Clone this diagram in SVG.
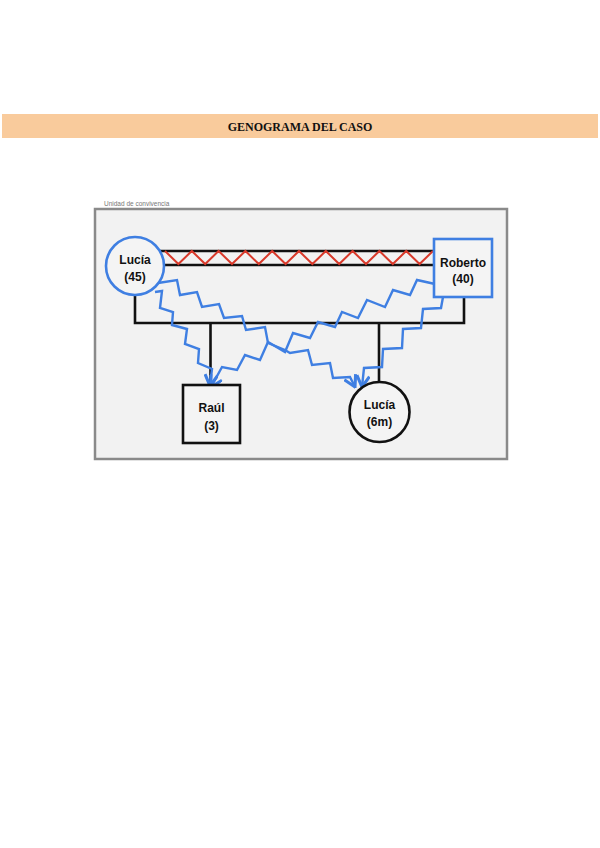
<svg xmlns="http://www.w3.org/2000/svg" width="600" height="848" viewBox="0 0 600 848">
<style>
.title{font-family:"Liberation Serif",serif;font-weight:bold;font-size:12px;fill:#111}
.lbl{font-family:"Liberation Sans",Arial,sans-serif;font-weight:bold;font-size:12px;fill:#111;text-anchor:middle}
.small{font-family:"Liberation Sans",Arial,sans-serif;font-size:6.5px;fill:#777}
.blk{stroke:#111;stroke-width:2.6;fill:none}
.red{stroke:#d93a2b;stroke-width:2;fill:none}
.blue{stroke:#3f7fe2;stroke-width:2.4;fill:none;stroke-linejoin:miter}
.bnode{stroke:#3f7fe2;stroke-width:2.6;fill:#f4f4f4}
.knode{stroke:#111;stroke-width:2.6;fill:#f4f4f4}
</style>
<defs>
<marker id="arr" markerUnits="userSpaceOnUse" markerWidth="14" markerHeight="14" refX="9" refY="5" orient="auto" viewBox="0 0 10 10">
<path d="M1,0.5 L9,5 L1,9.5" fill="none" stroke="#3f7fe2" stroke-width="2.2"/>
</marker>
</defs>
<rect width="600" height="848" fill="#ffffff"/>
<g id="header">
<rect x="2" y="114" width="596" height="24" fill="#f9cb9c"/>
<text class="title" x="300" y="130.5" text-anchor="middle">GENOGRAMA DEL CASO</text>
</g>
<g id="frame">
<rect x="95" y="209" width="412" height="250" fill="#f2f2f2" stroke="#8a8a8a" stroke-width="2.5"/>
<text class="small" x="104" y="206">Unidad de convivencia</text>
</g>
<g id="connectors">
<line class="blk" x1="160" y1="251" x2="434" y2="251"/>
<line class="blk" x1="164" y1="265" x2="434" y2="265"/>
<polyline class="red" points="165,251 178.4,264 191.8,251 205.2,264 218.6,251 232,264 245.4,251 258.8,264 272.2,251 285.6,264 299,251 312.4,264 325.8,251 339.2,264 352.6,251 366,264 379.4,251 392.8,264 406.2,251 419.6,264 433,251"/>
<polyline class="blk" points="135,295 135,323 464,323 464,297"/>
<line class="blk" x1="210.5" y1="323" x2="210.5" y2="385"/>
<line class="blk" x1="379" y1="323" x2="379" y2="382"/>
<polyline class="blue" marker-end="url(#arr)" points="155,292 162,291 160,308 173,312 172,325 187,329 185,344 199,349 198,363 212,369 210,386"/>
<polyline class="blue" marker-end="url(#arr)" points="158,283 177,280 180,295 197,292 202,307 219,304 224,318 242,316 246,330 265,327 268,343 285,350 290,353 308,350 312,365 330,363 333,378 350,377 355,387"/>
<polyline class="blue" marker-end="url(#arr)" points="435,284 417,280 410,295 393,290 385,307 367,300 358,318 342,312 335,327 318,322 310,338 293,333 285,352 268,342 260,360 245,355 237,370 222,367 216,378 211,387"/>
<polyline class="blue" marker-end="url(#arr)" points="443,297 441,308 423,309 421,328 403,329 402,348 383,349 382,367 364,368 362,387"/>
</g>
<g id="lucia45">
<circle class="bnode" cx="135" cy="266" r="29"/>
<text class="lbl" x="135" y="264">Lucía</text>
<text class="lbl" x="135" y="281">(45)</text>
</g>
<g id="roberto40">
<rect class="bnode" x="434" y="239" width="58" height="58"/>
<text class="lbl" x="463" y="267">Roberto</text>
<text class="lbl" x="463" y="283">(40)</text>
</g>
<g id="raul3">
<rect class="knode" x="183" y="385" width="57" height="58"/>
<text class="lbl" x="211.5" y="412">Raúl</text>
<text class="lbl" x="211.5" y="430">(3)</text>
</g>
<g id="lucia6m">
<circle class="knode" cx="379.5" cy="412" r="30"/>
<text class="lbl" x="379.5" y="409">Lucía</text>
<text class="lbl" x="379.5" y="426">(6m)</text>
</g>
</svg>
